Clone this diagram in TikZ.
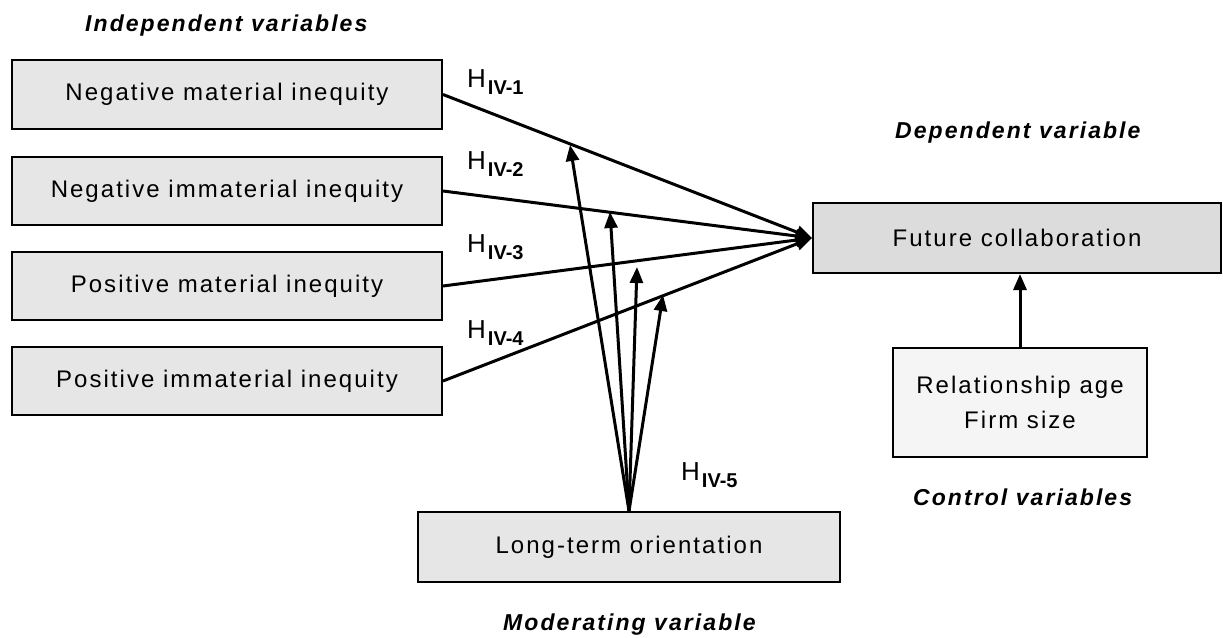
\documentclass[tikz,border=0pt]{standalone}
\usepackage{fontspec}
\setmainfont{Liberation Sans}
\newfontfamily\boxfont{Liberation Sans}[LetterSpace=8.5]
\newfontfamily\titlefont{Liberation Sans}[LetterSpace=9]
\usetikzlibrary{arrows.meta}
\definecolor{boxgray}{HTML}{E6E6E6}
\definecolor{fcgray}{HTML}{DCDCDC}
\definecolor{relgray}{HTML}{F5F5F5}
\tikzset{
  varbox/.style={draw=black, line width=2pt, fill=boxgray, inner sep=0pt,
    font=\boxfont\fontsize{24}{35}\selectfont, align=center},
  path/.style={line width=3pt},
  tip/.style={-{Triangle[length=16pt,width=13pt]}},
  titletext/.style={font=\titlefont\fontsize{23}{26}\selectfont\bfseries\itshape, inner sep=0pt},
  hyp/.style={inner sep=0pt, anchor=base west}
}
\newcommand{\hlabel}[1]{{\fontsize{26}{26}\selectfont H}\hspace{2pt}\raisebox{-7pt}{\fontsize{20}{20}\selectfont\bfseries #1}}
\begin{document}
\begin{tikzpicture}[x=1pt,y=-1pt]
\useasboundingbox (0,0) rectangle (1223,637);
% boxes
\node[varbox, minimum width=430, minimum height=69] (b1) at (227,94.5) {Negative material inequity};
\node[varbox, minimum width=430, minimum height=68] (b2) at (227,191) {Negative immaterial inequity};
\node[varbox, minimum width=430, minimum height=68] (b3) at (227,286) {Positive material inequity};
\node[varbox, minimum width=430, minimum height=68] (b4) at (227,381) {Positive immaterial inequity};
\node[varbox, fill=fcgray, minimum width=408, minimum height=70] (fc) at (1017,238) {Future collaboration};
\node[varbox, fill=relgray, minimum width=254, minimum height=109] (rel) at (1020,402.5) {Relationship age\\Firm size};
\node[varbox, minimum width=422, minimum height=70] (lto) at (629,547) {Long-term orientation};
% titles
\node[titletext, anchor=base west] (tiv) at (85,31) {Independent variables};
\node[titletext, anchor=base west] (tdv) at (895,138) {Dependent variable};
\node[titletext, anchor=base west] (tcv) at (913,505) {Control variables};
\node[titletext, anchor=base west] (tmv) at (503,630) {Moderating variable};
% hypothesis labels
\node[hyp] (h1) at (467,87) {\hlabel{IV-1}};
\node[hyp] (h2) at (467,169) {\hlabel{IV-2}};
\node[hyp] (h3) at (467,252) {\hlabel{IV-3}};
\node[hyp] (h4) at (467,338) {\hlabel{IV-4}};
\node[hyp] (h5) at (681,480) {\hlabel{IV-5}};
% main paths
\draw[path, tip] (b1.east) -- (fc.west);
\draw[path, tip] (b2.east) -- (fc.west);
\draw[path, tip] (b3.east) -- (fc.west);
\draw[path, tip] (b4.east) -- (fc.west);
% moderating arrows
\coordinate (m1) at (570,145);
\coordinate (m2) at (610,212);
\coordinate (m3) at (637,267);
\coordinate (m4) at (663,295);
\draw[path, tip] (lto.north) -- (m1);
\draw[path, tip] (lto.north) -- (m2);
\draw[path, tip] (lto.north) -- (m3);
\draw[path, tip] (lto.north) -- (m4);
% control arrow
\draw[path, tip] (rel.north) -- (rel.north |- fc.south);
\end{tikzpicture}
\end{document}
